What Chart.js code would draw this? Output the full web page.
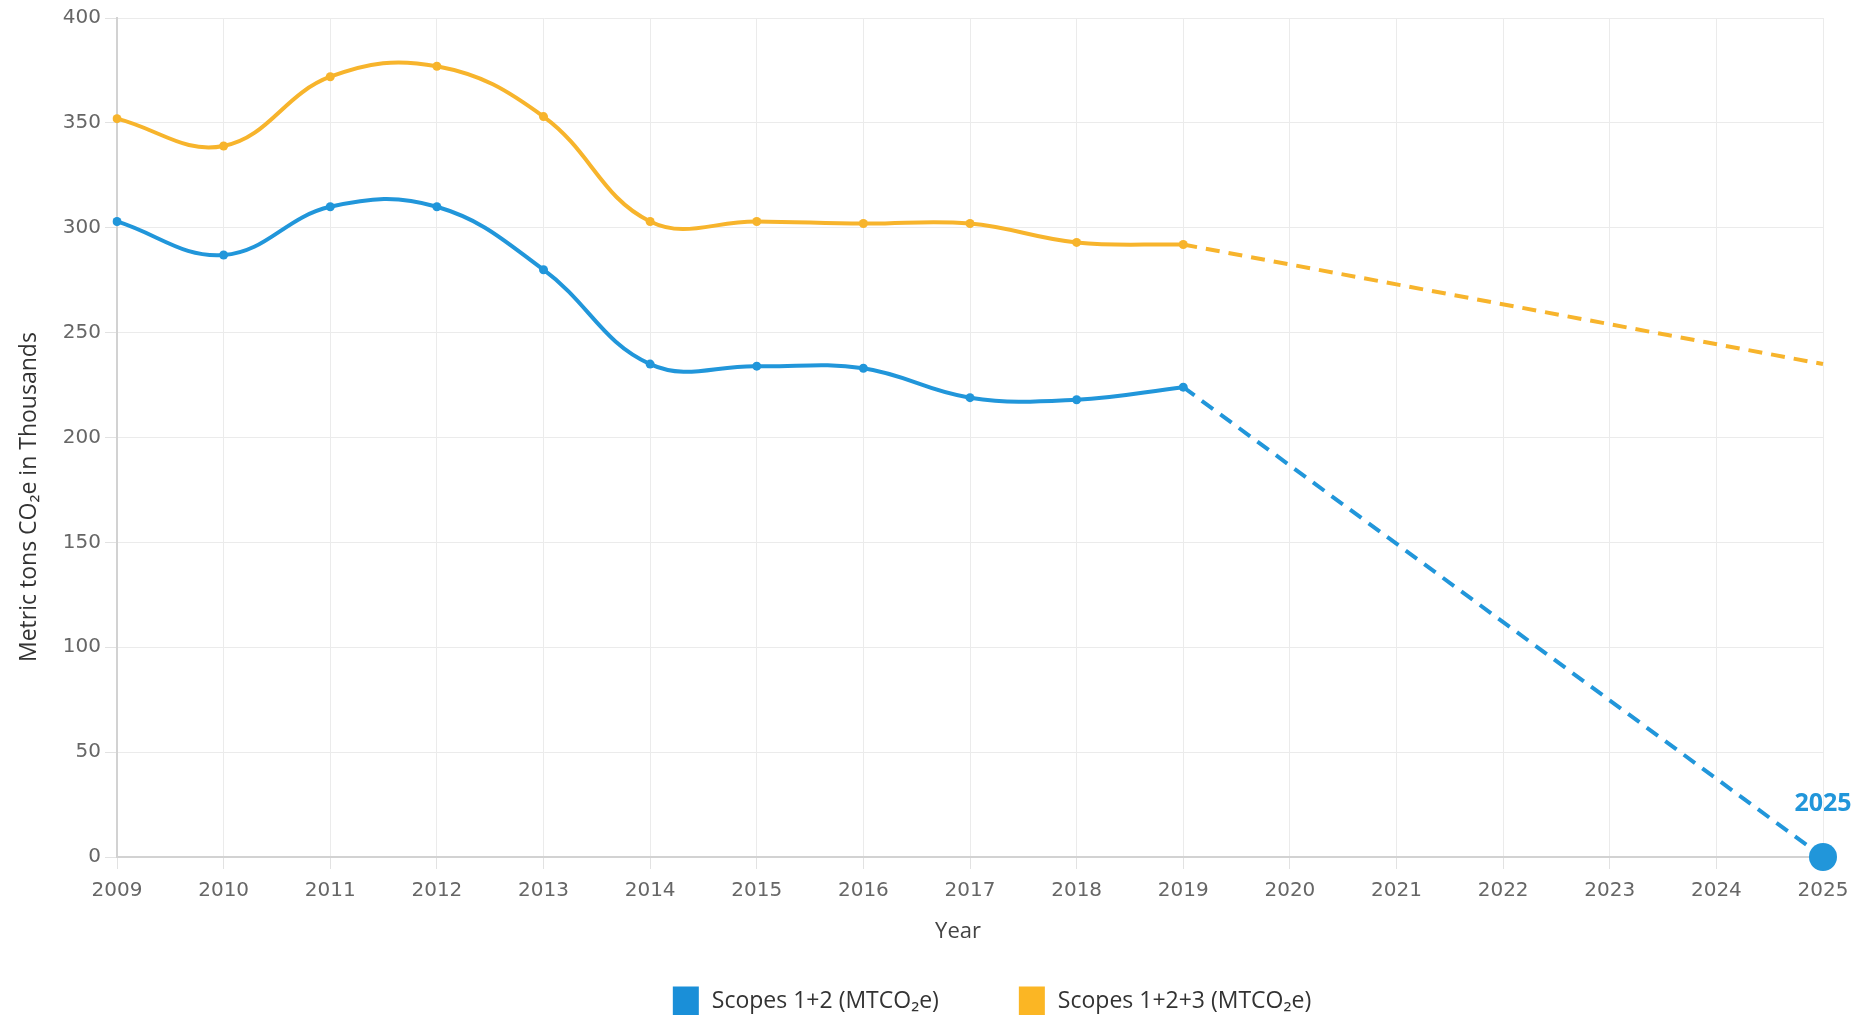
<!DOCTYPE html>
<html>
<head>
<meta charset="utf-8">
<script src="https://cdn.jsdelivr.net/npm/chart.js@4.4.1/dist/chart.umd.min.js"></script>
<style>
  html, body { margin: 0; padding: 0; background: #ffffff; }
  canvas { display: block; }
</style>
</head>
<body>
<canvas id="chart" width="1862" height="1015"></canvas>
<script>
// Emissions history and 2025 targets (thousand metric tons CO2e)
const years = ['2009','2010','2011','2012','2013','2014','2015','2016','2017','2018','2019',
               '2020','2021','2022','2023','2024','2025'];
const scopes12 = [303, 287, 310, 310, 280, 235, 234, 233, 219, 218, 224];
const scopes123 = [352, 339, 372, 377, 353, 303, 303, 302, 302, 293, 292];
const targetYear = '2025';
const scopes12Target = 0;
const scopes123Target = 235;
const seriesNames = ['Scopes 1+2 (MTCO\u2082e)', 'Scopes 1+2+3 (MTCO\u2082e)'];
const xTitle = 'Year';
const yTitle = 'Metric tons CO\u2082e in Thousands';

const BLUE = '#2196DA';
const ORANGE = '#F7B42C';
const LEGEND_BLUE = '#1A8FD8';
const LEGEND_ORANGE = '#FBB624';

// Pad the measured years with nulls across the whole axis
function padded(values) {
  return years.map((y, i) => (i < values.length ? values[i] : null));
}
// Straight dashed path from the last measured year to the target year
function projection(values, target) {
  const last = values.length - 1;
  return years.map((y, i) => (i === last ? values[last] : (y === targetYear ? target : null)));
}

const targetIndex = years.indexOf(targetYear);

// Writes the target year above the Scopes 1+2 target point
const targetLabel = {
  id: 'targetLabel',
  afterDatasetsDraw(chart) {
    const pt = chart.getDatasetMeta(2).data[targetIndex];
    if (!pt) return;
    const ctx = chart.ctx;
    ctx.save();
    ctx.font = 'bold 25px "Open Sans", sans-serif';
    ctx.fillStyle = BLUE;
    ctx.textAlign = 'center';
    ctx.textBaseline = 'middle';
    ctx.fillText(targetYear, pt.x, pt.y - 53);
    ctx.restore();
  }
};

// Axis titles, placed relative to the plot area
const axisTitles = {
  id: 'axisTitles',
  afterDraw(chart) {
    const { ctx, chartArea: a } = chart;
    ctx.save();
    ctx.textAlign = 'center';
    ctx.textBaseline = 'middle';
    ctx.fillStyle = '#333333';
    ctx.font = '23px "Open Sans", sans-serif';
    ctx.translate(29, a.top + (a.bottom - a.top) * 0.571);
    ctx.rotate(-Math.PI / 2);
    ctx.fillText(yTitle, 0, 0);
    ctx.restore();

    ctx.save();
    ctx.textAlign = 'center';
    ctx.textBaseline = 'middle';
    ctx.fillStyle = '#444444';
    ctx.font = '22px "Open Sans", sans-serif';
    ctx.fillText(xTitle, a.left + (a.right - a.left) * 0.493, a.bottom + 75);
    ctx.restore();
  }
};

// Legend row under the x axis: square swatch + series name, centred as a group
const bottomLegend = {
  id: 'bottomLegend',
  afterDraw(chart) {
    const ctx = chart.ctx;
    const swatches = [LEGEND_BLUE, LEGEND_ORANGE];
    const boxW = 26, boxH = 29, textGap = 13, itemGap = 80;
    const centerX = 992, centerY = 1001;
    ctx.save();
    ctx.font = '23px "Open Sans", sans-serif';
    const widths = seriesNames.map(n => ctx.measureText(n).width);
    const total = widths.reduce((s, w) => s + boxW + textGap + w, 0) + itemGap * (seriesNames.length - 1);
    let x = centerX - total / 2;
    seriesNames.forEach((name, i) => {
      ctx.fillStyle = swatches[i];
      ctx.fillRect(x, centerY - boxH / 2, boxW, boxH);
      x += boxW + textGap;
      ctx.fillStyle = '#333333';
      ctx.textAlign = 'left';
      ctx.textBaseline = 'middle';
      ctx.fillText(name, x, centerY);
      x += widths[i] + itemGap;
    });
    ctx.restore();
  }
};

new Chart(document.getElementById('chart'), {
  type: 'line',
  data: {
    labels: years,
    datasets: [
      {
        label: seriesNames[0],
        data: padded(scopes12),
        borderColor: BLUE,
        backgroundColor: BLUE,
        borderWidth: 4,
        pointRadius: 4.5,
        pointBorderWidth: 0,
        tension: 0.4
      },
      {
        label: seriesNames[1],
        data: padded(scopes123),
        borderColor: ORANGE,
        backgroundColor: ORANGE,
        borderWidth: 4,
        pointRadius: 4.5,
        pointBorderWidth: 0,
        tension: 0.4
      },
      {
        label: seriesNames[0] + ' target',
        data: projection(scopes12, scopes12Target),
        borderColor: BLUE,
        backgroundColor: BLUE,
        borderWidth: 4,
        borderDash: [14, 9],
        spanGaps: true,
        tension: 0,
        clip: false,
        pointRadius: years.map((y, i) => (i === targetIndex ? 14 : 0)),
        pointBorderWidth: 0
      },
      {
        label: seriesNames[1] + ' target',
        data: projection(scopes123, scopes123Target),
        borderColor: ORANGE,
        backgroundColor: ORANGE,
        borderWidth: 4,
        borderDash: [14, 9],
        spanGaps: true,
        tension: 0,
        pointRadius: 0
      }
    ]
  },
  options: {
    responsive: false,
    animation: false,
    devicePixelRatio: 1,
    layout: { padding: { left: 0, right: 39, top: 18, bottom: 38 } },
    plugins: {
      tooltip: { enabled: false },
      legend: { display: false }
    },
    scales: {
      x: {
        grid: { color: '#ebebeb', tickLength: 12, tickColor: '#e2e2e2' },
        border: { color: '#d2d2d2', width: 2 },
        ticks: {
          color: '#666666',
          padding: 10,
          maxRotation: 0,
          autoSkip: false,
          font: { family: '"DejaVu Sans", sans-serif', size: 20 }
        },
        afterFit(scale) { scale.height = 120; }
      },
      y: {
        min: 0,
        max: 400,
        ticks: {
          stepSize: 50,
          color: '#666666',
          padding: 4,
          font: { family: '"DejaVu Sans", sans-serif', size: 20 }
        },
        grid: { color: '#ebebeb', tickLength: 12, tickColor: '#e2e2e2' },
        border: { color: '#d2d2d2', width: 2 },
        afterFit(scale) { scale.width = 117; }
      }
    }
  },
  plugins: [targetLabel, axisTitles, bottomLegend]
});
</script>
</body>
</html>
